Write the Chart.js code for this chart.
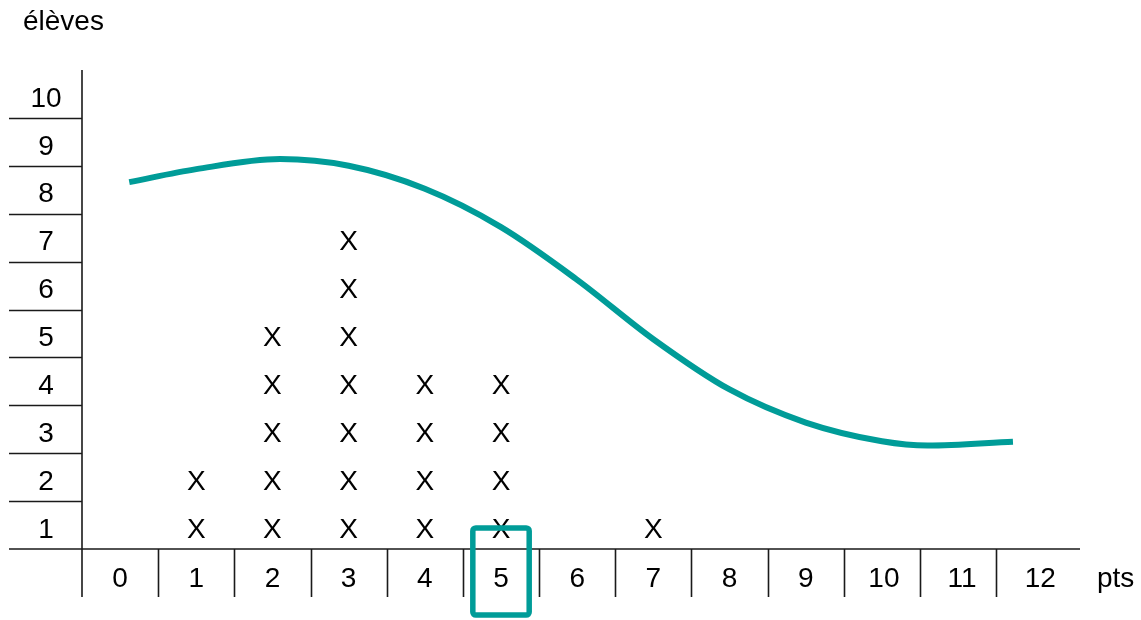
<!DOCTYPE html>
<html>
<head>
<meta charset="utf-8">
<script src="https://cdn.jsdelivr.net/npm/chart.js@4"></script>
<style>
  html, body { margin: 0; padding: 0; background: #ffffff; }
  #wrap { width: 1141px; height: 620px; }
</style>
</head>
<body>
<div id="wrap"><canvas id="c" width="1141" height="620"></canvas></div>
<script>
// ---- data ----
const scoreLabels = ['0','1','2','3','4','5','6','7','8','9','10','11','12'];
const studentCounts = [0, 2, 5, 7, 4, 4, 0, 1, 0, 0, 0, 0, 0];
const yTickLabels = ['1','2','3','4','5','6','7','8','9','10'];
const curveX = [0.12, 1.0, 2.1, 3.0, 4.0, 5.0, 6.0, 7.0, 8.0, 9.0, 10.0, 10.6, 11.72];
const curveY = [7.66, 7.93, 8.14, 8.0, 7.52, 6.72, 5.62, 4.38, 3.33, 2.64, 2.25, 2.16, 2.24];
const highlightedScore = 5;
const yAxisTitle = 'élèves';
const xAxisTitle = 'pts';

// ---- build library data ----
const curveData = curveX.map((x, i) => ({ x: x, y: curveY[i] }));
const markData = [];
studentCounts.forEach((n, s) => {
  for (let k = 1; k <= n; k++) markData.push({ x: s, y: k - 0.5 });
});

const TEAL = '#009C98';
const INK = '#1a1a1a';
const FONT = '28px "Liberation Sans", Arial, sans-serif';

const framePlugin = {
  id: 'frame',
  beforeDatasetsDraw(chart) {
    const ctx = chart.ctx;
    const xs = chart.scales.x, ys = chart.scales.y;
    const ca = chart.chartArea;
    const axisY = ys.getPixelForValue(0);
    const axisX = ca.left;
    const leftEdge = 9;
    const bottomEdge = axisY + 48;
    ctx.save();
    ctx.strokeStyle = INK;
    ctx.lineWidth = 1.6;
    ctx.beginPath();
    ctx.moveTo(axisX, ca.top);
    ctx.lineTo(axisX, bottomEdge);
    ctx.moveTo(leftEdge, axisY);
    ctx.lineTo(ca.right, axisY);
    for (let v = 1; v < yTickLabels.length; v++) {
      const py = Math.round(ys.getPixelForValue(v)) + 0.5;
      ctx.moveTo(leftEdge, py);
      ctx.lineTo(axisX, py);
    }
    for (let s = 0; s < scoreLabels.length - 1; s++) {
      const px = Math.round(xs.getPixelForValue(s + 0.5)) + 0.5;
      ctx.moveTo(px, axisY);
      ctx.lineTo(px, bottomEdge);
    }
    ctx.stroke();

    ctx.fillStyle = '#000';
    ctx.font = FONT;
    ctx.textAlign = 'center';
    ctx.textBaseline = 'middle';
    yTickLabels.forEach((t, i) => {
      ctx.fillText(t, 46, ys.getPixelForValue(i + 0.5) + 5);
    });
    scoreLabels.forEach((t, i) => {
      ctx.fillText(t, xs.getPixelForValue(i) + (i >= 10 ? (i - 9) * 2 : 0), axisY + 30);
    });
    ctx.textAlign = 'left';
    ctx.textBaseline = 'alphabetic';
    ctx.fillText(yAxisTitle, 23, 30);
    ctx.fillText(xAxisTitle, 1097, 587);
    ctx.restore();
  },
  afterDatasetsDraw(chart) {
    const ctx = chart.ctx;
    const xs = chart.scales.x, ys = chart.scales.y;
    ctx.save();
    const meta = chart.getDatasetMeta(1);
    ctx.fillStyle = '#000';
    ctx.font = FONT;
    ctx.textAlign = 'center';
    ctx.textBaseline = 'middle';
    meta.data.forEach(el => {
      ctx.fillText('X', el.x, el.y + 5);
    });
    const x0 = xs.getPixelForValue(highlightedScore - 0.37);
    const x1 = xs.getPixelForValue(highlightedScore + 0.37);
    const y0 = ys.getPixelForValue(0.44);
    const y1 = ys.getPixelForValue(-1.38);
    ctx.strokeStyle = TEAL;
    ctx.lineWidth = 5.5;
    ctx.lineJoin = 'round';
    ctx.beginPath();
    ctx.roundRect(x0, y0, x1 - x0, y1 - y0, 3);
    ctx.stroke();
    ctx.restore();
  }
};

new Chart(document.getElementById('c'), {
  type: 'scatter',
  data: {
    datasets: [
      {
        label: 'courbe',
        data: curveData,
        showLine: true,
        borderColor: TEAL,
        borderWidth: 6,
        pointRadius: 0,
        cubicInterpolationMode: 'monotone',
        borderCapStyle: 'butt',
        fill: false
      },
      {
        label: 'élèves',
        data: markData,
        pointRadius: 0,
        showLine: false
      }
    ]
  },
  options: {
    responsive: false,
    animation: false,
    layout: { padding: { left: 82, right: 61, top: 70, bottom: 71 } },
    plugins: { legend: { display: false }, tooltip: { enabled: false } },
    scales: {
      x: { type: 'linear', min: -0.5, max: 12.6, display: false },
      y: { type: 'linear', min: 0, max: 10, display: false }
    }
  },
  plugins: [framePlugin]
});
</script>
</body>
</html>
